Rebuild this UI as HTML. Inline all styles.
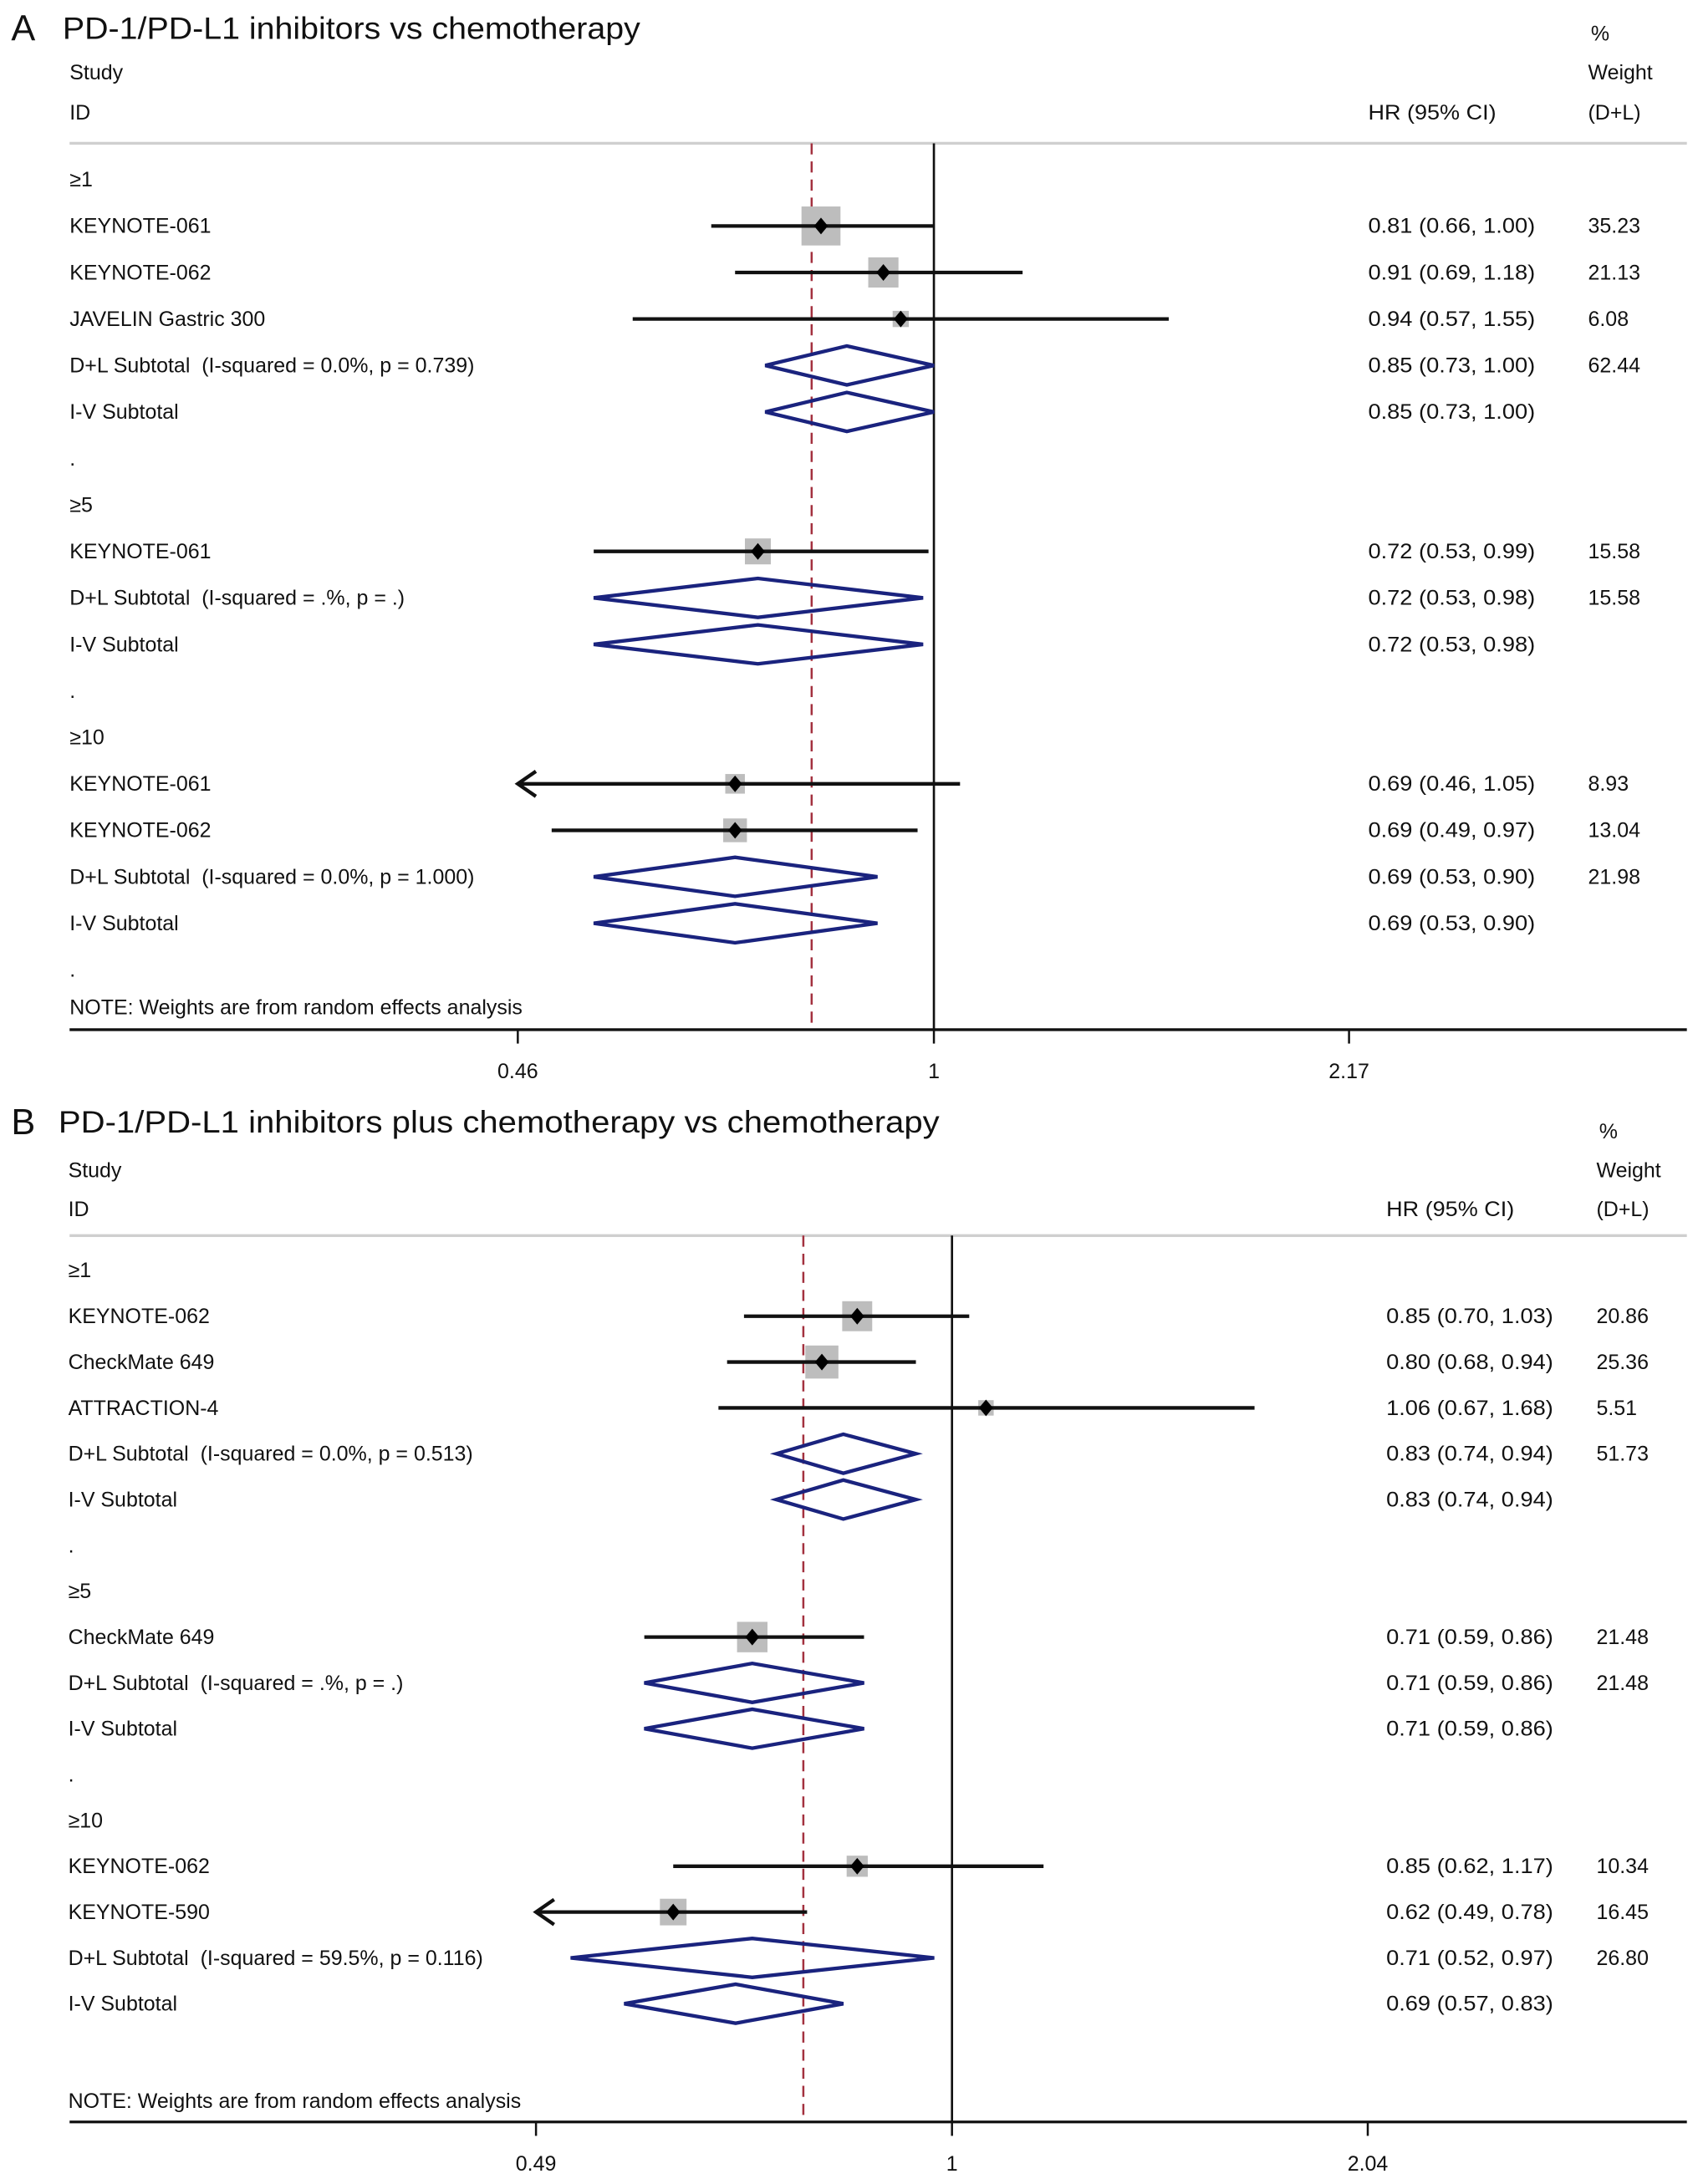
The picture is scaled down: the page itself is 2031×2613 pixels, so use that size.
<!DOCTYPE html>
<html><head><meta charset="utf-8"><style>
html,body{margin:0;padding:0;background:#fff}
svg{display:block}
text{font-family:"Liberation Sans",Arial,sans-serif;fill:#111;white-space:pre}
</style></head><body>
<svg id="chart" width="2031" height="2613" viewBox="0 0 1220 1569.6" xmlns="http://www.w3.org/2000/svg" xml:space="preserve"></svg>
<script>
// ---- Panel A data ----
const labelsA=["≥1","KEYNOTE-061","KEYNOTE-062","JAVELIN Gastric 300","D+L Subtotal  (I-squared = 0.0%, p = 0.739)","I-V Subtotal",".","≥5","KEYNOTE-061","D+L Subtotal  (I-squared = .%, p = .)","I-V Subtotal",".","≥10","KEYNOTE-061","KEYNOTE-062","D+L Subtotal  (I-squared = 0.0%, p = 1.000)","I-V Subtotal","."];
const typesA=["g","s","s","s","d","d","x","g","s","d","d","x","g","s","s","d","d","x"];
const hrA=[null,0.81,0.91,0.94,0.85,0.85,null,null,0.72,0.72,0.72,null,null,0.69,0.69,0.69,0.69,null];
const loA=[null,0.66,0.69,0.57,0.73,0.73,null,null,0.53,0.53,0.53,null,null,0.46,0.49,0.53,0.53,null];
const hiA=[null,1.00,1.18,1.55,1.00,1.00,null,null,0.99,0.98,0.98,null,null,1.05,0.97,0.90,0.90,null];
const wA=[null,35.23,21.13,6.08,62.44,null,null,null,15.58,15.58,null,null,null,8.93,13.04,21.98,null,null];
const ticksA=[0.46,1,2.17];
const overallA=0.796;
// ---- Panel B data ----
const labelsB=["≥1","KEYNOTE-062","CheckMate 649","ATTRACTION-4","D+L Subtotal  (I-squared = 0.0%, p = 0.513)","I-V Subtotal",".","≥5","CheckMate 649","D+L Subtotal  (I-squared = .%, p = .)","I-V Subtotal",".","≥10","KEYNOTE-062","KEYNOTE-590","D+L Subtotal  (I-squared = 59.5%, p = 0.116)","I-V Subtotal"];
const typesB=["g","s","s","s","d","d","x","g","s","d","d","x","g","s","s","d","d"];
const hrB=[null,0.85,0.80,1.06,0.83,0.83,null,null,0.71,0.71,0.71,null,null,0.85,0.62,0.71,0.69];
const loB=[null,0.70,0.68,0.67,0.74,0.74,null,null,0.59,0.59,0.59,null,null,0.62,0.49,0.52,0.57];
const hiB=[null,1.03,0.94,1.68,0.94,0.94,null,null,0.86,0.86,0.86,null,null,1.17,0.78,0.97,0.83];
const wB=[null,20.86,25.36,5.51,51.73,null,null,null,21.48,21.48,null,null,null,10.34,16.45,26.80,null];
const ticksB=["0.49","1","2.04"];
const tickValsB=[0.49,1,2.04];
const overallB=0.775;

const NS="http://www.w3.org/2000/svg";
const svg=document.getElementById('chart');
function el(tag,attrs,parent){const e=document.createElementNS(NS,tag);for(const k in attrs)e.setAttribute(k,attrs[k]);(parent||svg).appendChild(e);return e;}
function txt(x,y,s,size,parent,extra){const t=el('text',Object.assign({x:x,y:y,'font-size':size},extra||{}),parent);t.textContent=s;return t;}
function fmt(v){return v.toFixed(2);}

function panel(cfg){
  const g=el('g',{});
  
  
  const X=v=>cfg.x1+Math.log(v)*cfg.ppl;
  const Y=i=>cfg.row0+i*cfg.step;
  const L=txt(8,cfg.titleY+9,cfg.letter,26,g);
  
  const T=txt(cfg.titleX,cfg.titleY+8,cfg.title,22,g,{textLength:cfg.titleW,lengthAdjust:'spacingAndGlyphs'});
  
  const h1=txt(cfg.lx,cfg.studyY+5,'Study',15,g);
  const h2=txt(cfg.lx,cfg.idY+5,'ID',15,g);
  const h3=txt(cfg.hx,cfg.idY+5,'HR (95% CI)',15,g,{textLength:92,lengthAdjust:'spacingAndGlyphs'});
  const h4=txt(cfg.wx+2,cfg.studyY-23,'%',15,g);
  const h5=txt(cfg.wx,cfg.studyY+5,'Weight',15,g);
  const h6=txt(cfg.wx,cfg.idY+5,'(D+L)',15,g);
  const hl=el('line',{x1:50,x2:1212,y1:cfg.hdrY,y2:cfg.hdrY,stroke:'#cfcfcf','stroke-width':2},g);
  
  const ax=el('line',{x1:50,x2:1212,y1:cfg.axisY,y2:cfg.axisY,stroke:'#111','stroke-width':2},g);
  
  cfg.ticks.forEach((tv,i)=>{
    const tk=el('line',{x1:X(tv),x2:X(tv),y1:cfg.axisY,y2:cfg.axisY+10,stroke:'#111','stroke-width':1.5},g);
    
    const tl=txt(X(tv),cfg.axisY+35,cfg.tickLabels[i],15,g,{'text-anchor':'middle'});
    
  });
  const nl=el('line',{x1:X(1),x2:X(1),y1:cfg.hdrY,y2:cfg.axisY,stroke:'#111','stroke-width':1.6},g);
  
  const dl=el('line',{x1:X(cfg.overall),x2:X(cfg.overall),y1:cfg.hdrY,y2:cfg.axisY,stroke:'#a3313f','stroke-width':1.5,'stroke-dasharray':'8,5'},g);
  
  const minT=cfg.ticks[0];
  cfg.labels.forEach((lab,i)=>{
    const y=Y(i),t=cfg.types[i];
    const lt=txt(cfg.lx,y+5,lab,15,g);
    
    
    if(cfg.hr[i]==null)return;
    const hs=fmt(cfg.hr[i])+' ('+fmt(cfg.lo[i])+', '+fmt(cfg.hi[i])+')';
    const ht=txt(cfg.hx,y+5,hs,15,g,{textLength:120,lengthAdjust:'spacingAndGlyphs'});
    
    if(cfg.w[i]!=null){const wt=txt(cfg.wx,y+5,cfg.w[i].toFixed(2),15,g);}
    if(t==='s'){
      const s=4.72*Math.sqrt(cfg.w[i]);
      const sq=el('rect',{x:X(cfg.hr[i])-s/2,y:y-s/2,width:s,height:s,fill:'#bdbdbd'},g);
      
      const arrow=cfg.lo[i]<=minT;
      const xl=arrow?X(minT):X(cfg.lo[i]);
      const ci=el('line',{x1:xl,x2:X(cfg.hi[i]),y1:y,y2:y,stroke:'#111','stroke-width':2.6},g);
      
      if(arrow){const ah=el('polyline',{points:(xl+13)+','+(y-9)+' '+xl+','+y+' '+(xl+13)+','+(y+9),fill:'none',stroke:'#111','stroke-width':2.6},g);
        }
      const px=X(cfg.hr[i]);
      const pt=el('polygon',{points:(px-5)+','+y+' '+px+','+(y-6)+' '+(px+5)+','+y+' '+px+','+(y+6),fill:'#000'},g);
      
    } else if(t==='d'){
      const a=X(cfg.lo[i]),c=X(cfg.hr[i]),b=X(cfg.hi[i]);
      const dm=el('polygon',{points:a+','+y+' '+c+','+(y-14)+' '+b+','+y+' '+c+','+(y+14),fill:'none',stroke:'#1a237e','stroke-width':2.6},g);
      
    }
  });
  const nt=txt(cfg.lx,cfg.noteY+5,'NOTE: Weights are from random effects analysis',15,g);
  
}
panel({name:'panel-a',letter:'A',title:'PD-1/PD-L1 inhibitors vs chemotherapy',titleX:45,titleY:20,titleW:415,
  studyY:52,idY:81,hdrY:103,axisY:740,noteY:724,row0:129,step:33.41,lx:50,hx:983,wx:1141,
  x1:671,ppl:385,ticks:ticksA,tickLabels:["0.46","1","2.17"],overall:overallA,
  labels:labelsA,types:typesA,hr:hrA,lo:loA,hi:hiA,w:wA});
panel({name:'panel-b',letter:'B',title:'PD-1/PD-L1 inhibitors plus chemotherapy vs chemotherapy',titleX:42,titleY:806,titleW:633,
  studyY:841,idY:869,hdrY:888,axisY:1525,noteY:1510,row0:913,step:32.94,lx:49,hx:996,wx:1147,
  x1:684,ppl:419,ticks:tickValsB,tickLabels:ticksB,overall:overallB,
  labels:labelsB,types:typesB,hr:hrB,lo:loB,hi:hiB,w:wB});
</script>
</body></html>
